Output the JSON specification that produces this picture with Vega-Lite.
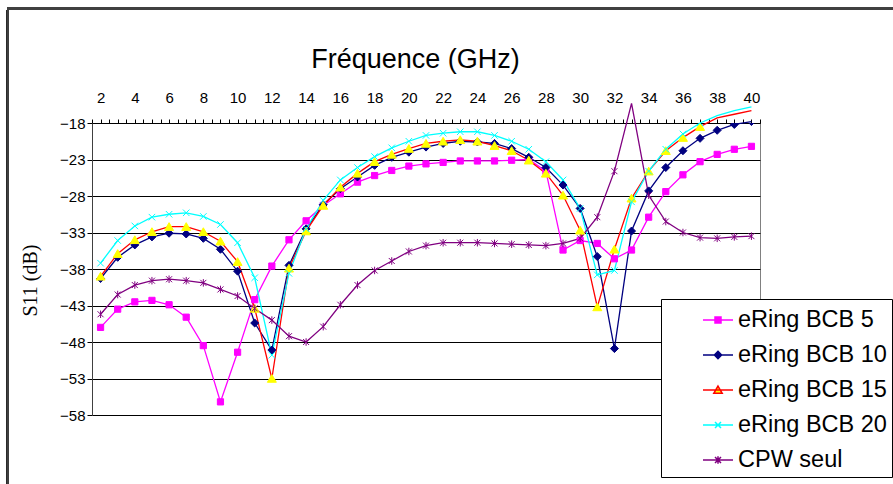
{
  "$schema": "https://vega.github.io/schema/vega-lite/v6.json",
  "width": 668,
  "height": 292,
  "autosize": {"type": "none"},
  "padding": {"left": 92, "top": 123, "right": 133, "bottom": 69},
  "background": "white",
  "config": {"view": {"stroke": "#808080", "strokeWidth": 1}, "font": "Liberation Sans"},
  "data": {"values": [
    {"f":2,"s":"eRing BCB 5","v":-46.0},{"f":3,"s":"eRing BCB 5","v":-43.5},{"f":4,"s":"eRing BCB 5","v":-42.5},{"f":5,"s":"eRing BCB 5","v":-42.3},{"f":6,"s":"eRing BCB 5","v":-42.9},{"f":7,"s":"eRing BCB 5","v":-44.6},{"f":8,"s":"eRing BCB 5","v":-48.5},{"f":9,"s":"eRing BCB 5","v":-56.2},{"f":10,"s":"eRing BCB 5","v":-49.4},{"f":11,"s":"eRing BCB 5","v":-42.2},{"f":12,"s":"eRing BCB 5","v":-37.6},{"f":13,"s":"eRing BCB 5","v":-34.0},{"f":14,"s":"eRing BCB 5","v":-31.4},{"f":15,"s":"eRing BCB 5","v":-29.3},{"f":16,"s":"eRing BCB 5","v":-27.7},{"f":17,"s":"eRing BCB 5","v":-26.1},{"f":18,"s":"eRing BCB 5","v":-25.2},{"f":19,"s":"eRing BCB 5","v":-24.5},{"f":20,"s":"eRing BCB 5","v":-23.9},{"f":21,"s":"eRing BCB 5","v":-23.6},{"f":22,"s":"eRing BCB 5","v":-23.4},{"f":23,"s":"eRing BCB 5","v":-23.2},{"f":24,"s":"eRing BCB 5","v":-23.2},{"f":25,"s":"eRing BCB 5","v":-23.2},{"f":26,"s":"eRing BCB 5","v":-23.1},{"f":27,"s":"eRing BCB 5","v":-23.0},{"f":28,"s":"eRing BCB 5","v":-24.6},{"f":29,"s":"eRing BCB 5","v":-35.4},{"f":30,"s":"eRing BCB 5","v":-34.1},{"f":31,"s":"eRing BCB 5","v":-34.5},{"f":32,"s":"eRing BCB 5","v":-36.6},{"f":33,"s":"eRing BCB 5","v":-35.4},{"f":34,"s":"eRing BCB 5","v":-30.9},{"f":35,"s":"eRing BCB 5","v":-27.4},{"f":36,"s":"eRing BCB 5","v":-25.1},{"f":37,"s":"eRing BCB 5","v":-23.3},{"f":38,"s":"eRing BCB 5","v":-22.3},{"f":39,"s":"eRing BCB 5","v":-21.6},{"f":40,"s":"eRing BCB 5","v":-21.2},
    {"f":2,"s":"eRing BCB 10","v":-39.3},{"f":3,"s":"eRing BCB 10","v":-36.4},{"f":4,"s":"eRing BCB 10","v":-34.7},{"f":5,"s":"eRing BCB 10","v":-33.6},{"f":6,"s":"eRing BCB 10","v":-33.1},{"f":7,"s":"eRing BCB 10","v":-33.2},{"f":8,"s":"eRing BCB 10","v":-33.8},{"f":9,"s":"eRing BCB 10","v":-35.3},{"f":10,"s":"eRing BCB 10","v":-38.3},{"f":11,"s":"eRing BCB 10","v":-45.4},{"f":12,"s":"eRing BCB 10","v":-49.1},{"f":13,"s":"eRing BCB 10","v":-37.5},{"f":14,"s":"eRing BCB 10","v":-32.5},{"f":15,"s":"eRing BCB 10","v":-29.2},{"f":16,"s":"eRing BCB 10","v":-27.0},{"f":17,"s":"eRing BCB 10","v":-25.4},{"f":18,"s":"eRing BCB 10","v":-23.8},{"f":19,"s":"eRing BCB 10","v":-22.7},{"f":20,"s":"eRing BCB 10","v":-22.0},{"f":21,"s":"eRing BCB 10","v":-21.3},{"f":22,"s":"eRing BCB 10","v":-20.8},{"f":23,"s":"eRing BCB 10","v":-20.5},{"f":24,"s":"eRing BCB 10","v":-20.6},{"f":25,"s":"eRing BCB 10","v":-20.8},{"f":26,"s":"eRing BCB 10","v":-21.5},{"f":27,"s":"eRing BCB 10","v":-22.7},{"f":28,"s":"eRing BCB 10","v":-24.1},{"f":29,"s":"eRing BCB 10","v":-26.5},{"f":30,"s":"eRing BCB 10","v":-29.7},{"f":31,"s":"eRing BCB 10","v":-36.3},{"f":32,"s":"eRing BCB 10","v":-48.9},{"f":33,"s":"eRing BCB 10","v":-32.8},{"f":34,"s":"eRing BCB 10","v":-27.3},{"f":35,"s":"eRing BCB 10","v":-24.1},{"f":36,"s":"eRing BCB 10","v":-21.8},{"f":37,"s":"eRing BCB 10","v":-20.1},{"f":38,"s":"eRing BCB 10","v":-19.0},{"f":39,"s":"eRing BCB 10","v":-18.2},{"f":40,"s":"eRing BCB 10","v":-17.8},
    {"f":2,"s":"eRing BCB 15","v":-39.0},{"f":3,"s":"eRing BCB 15","v":-35.9},{"f":4,"s":"eRing BCB 15","v":-34.0},{"f":5,"s":"eRing BCB 15","v":-32.9},{"f":6,"s":"eRing BCB 15","v":-32.2},{"f":7,"s":"eRing BCB 15","v":-32.2},{"f":8,"s":"eRing BCB 15","v":-32.9},{"f":9,"s":"eRing BCB 15","v":-34.2},{"f":10,"s":"eRing BCB 15","v":-37.0},{"f":11,"s":"eRing BCB 15","v":-43.4},{"f":12,"s":"eRing BCB 15","v":-53.0},{"f":13,"s":"eRing BCB 15","v":-37.9},{"f":14,"s":"eRing BCB 15","v":-32.8},{"f":15,"s":"eRing BCB 15","v":-29.3},{"f":16,"s":"eRing BCB 15","v":-26.8},{"f":17,"s":"eRing BCB 15","v":-24.9},{"f":18,"s":"eRing BCB 15","v":-23.3},{"f":19,"s":"eRing BCB 15","v":-22.3},{"f":20,"s":"eRing BCB 15","v":-21.5},{"f":21,"s":"eRing BCB 15","v":-20.8},{"f":22,"s":"eRing BCB 15","v":-20.5},{"f":23,"s":"eRing BCB 15","v":-20.3},{"f":24,"s":"eRing BCB 15","v":-20.5},{"f":25,"s":"eRing BCB 15","v":-21.1},{"f":26,"s":"eRing BCB 15","v":-21.8},{"f":27,"s":"eRing BCB 15","v":-23.1},{"f":28,"s":"eRing BCB 15","v":-24.9},{"f":29,"s":"eRing BCB 15","v":-27.9},{"f":30,"s":"eRing BCB 15","v":-32.7},{"f":31,"s":"eRing BCB 15","v":-43.2},{"f":32,"s":"eRing BCB 15","v":-35.3},{"f":33,"s":"eRing BCB 15","v":-28.3},{"f":34,"s":"eRing BCB 15","v":-24.6},{"f":35,"s":"eRing BCB 15","v":-21.8},{"f":36,"s":"eRing BCB 15","v":-20.0},{"f":37,"s":"eRing BCB 15","v":-18.5},{"f":38,"s":"eRing BCB 15","v":-17.3},{"f":39,"s":"eRing BCB 15","v":-16.8},{"f":40,"s":"eRing BCB 15","v":-16.3},
    {"f":2,"s":"eRing BCB 20","v":-37.2},{"f":3,"s":"eRing BCB 20","v":-34.1},{"f":4,"s":"eRing BCB 20","v":-32.1},{"f":5,"s":"eRing BCB 20","v":-30.9},{"f":6,"s":"eRing BCB 20","v":-30.5},{"f":7,"s":"eRing BCB 20","v":-30.3},{"f":8,"s":"eRing BCB 20","v":-30.8},{"f":9,"s":"eRing BCB 20","v":-31.9},{"f":10,"s":"eRing BCB 20","v":-34.4},{"f":11,"s":"eRing BCB 20","v":-39.2},{"f":12,"s":"eRing BCB 20","v":-49.8},{"f":13,"s":"eRing BCB 20","v":-38.6},{"f":14,"s":"eRing BCB 20","v":-32.5},{"f":15,"s":"eRing BCB 20","v":-28.6},{"f":16,"s":"eRing BCB 20","v":-25.8},{"f":17,"s":"eRing BCB 20","v":-24.1},{"f":18,"s":"eRing BCB 20","v":-22.6},{"f":19,"s":"eRing BCB 20","v":-21.4},{"f":20,"s":"eRing BCB 20","v":-20.5},{"f":21,"s":"eRing BCB 20","v":-19.7},{"f":22,"s":"eRing BCB 20","v":-19.4},{"f":23,"s":"eRing BCB 20","v":-19.2},{"f":24,"s":"eRing BCB 20","v":-19.2},{"f":25,"s":"eRing BCB 20","v":-19.7},{"f":26,"s":"eRing BCB 20","v":-20.5},{"f":27,"s":"eRing BCB 20","v":-21.6},{"f":28,"s":"eRing BCB 20","v":-23.3},{"f":29,"s":"eRing BCB 20","v":-25.8},{"f":30,"s":"eRing BCB 20","v":-29.7},{"f":31,"s":"eRing BCB 20","v":-38.8},{"f":32,"s":"eRing BCB 20","v":-38.2},{"f":33,"s":"eRing BCB 20","v":-28.8},{"f":34,"s":"eRing BCB 20","v":-24.6},{"f":35,"s":"eRing BCB 20","v":-21.6},{"f":36,"s":"eRing BCB 20","v":-19.5},{"f":37,"s":"eRing BCB 20","v":-18.0},{"f":38,"s":"eRing BCB 20","v":-17.0},{"f":39,"s":"eRing BCB 20","v":-16.3},{"f":40,"s":"eRing BCB 20","v":-15.8},
    {"f":2,"s":"CPW seul","v":-44.2},{"f":3,"s":"CPW seul","v":-41.5},{"f":4,"s":"CPW seul","v":-40.2},{"f":5,"s":"CPW seul","v":-39.6},{"f":6,"s":"CPW seul","v":-39.4},{"f":7,"s":"CPW seul","v":-39.6},{"f":8,"s":"CPW seul","v":-39.9},{"f":9,"s":"CPW seul","v":-40.8},{"f":10,"s":"CPW seul","v":-41.7},{"f":11,"s":"CPW seul","v":-43.4},{"f":12,"s":"CPW seul","v":-45.0},{"f":13,"s":"CPW seul","v":-47.2},{"f":14,"s":"CPW seul","v":-48.0},{"f":15,"s":"CPW seul","v":-45.9},{"f":16,"s":"CPW seul","v":-42.9},{"f":17,"s":"CPW seul","v":-40.2},{"f":18,"s":"CPW seul","v":-38.2},{"f":19,"s":"CPW seul","v":-36.9},{"f":20,"s":"CPW seul","v":-35.6},{"f":21,"s":"CPW seul","v":-34.8},{"f":22,"s":"CPW seul","v":-34.4},{"f":23,"s":"CPW seul","v":-34.4},{"f":24,"s":"CPW seul","v":-34.4},{"f":25,"s":"CPW seul","v":-34.5},{"f":26,"s":"CPW seul","v":-34.6},{"f":27,"s":"CPW seul","v":-34.7},{"f":28,"s":"CPW seul","v":-34.8},{"f":29,"s":"CPW seul","v":-34.5},{"f":30,"s":"CPW seul","v":-33.8},{"f":31,"s":"CPW seul","v":-30.9},{"f":32,"s":"CPW seul","v":-24.6},{"f":33,"s":"CPW seul","v":-15.3},{"f":34,"s":"CPW seul","v":-27.9},{"f":35,"s":"CPW seul","v":-31.5},{"f":36,"s":"CPW seul","v":-33.0},{"f":37,"s":"CPW seul","v":-33.7},{"f":38,"s":"CPW seul","v":-33.8},{"f":39,"s":"CPW seul","v":-33.6},{"f":40,"s":"CPW seul","v":-33.5}
  ]},
  "resolve": {
    "scale": {"fill": "independent", "stroke": "independent", "shape": "independent"},
    "legend": {"fill": "independent", "stroke": "independent", "shape": "independent"}
  },
  "layer": [
    {
      "mark": {"type": "rect", "filled": false, "stroke": "#404040", "strokeWidth": 1.5},
      "encoding": {
        "x": {"datum": -3.42, "type": "quantitative"},
        "x2": {"datum": 50},
        "y": {"datum": -2.3, "type": "quantitative"},
        "y2": {"datum": -90}
      }
    },
    {
      "mark": {"type": "line", "strokeWidth": 1.3},
      "encoding": {
        "x": {
          "field": "f", "type": "quantitative",
          "scale": {"domain": [1.5, 40.5], "nice": false, "zero": false},
          "axis": {
            "orient": "top", "tickCount": 78, "format": ".0f",
            "labelExpr": "datum.value % 2 === 0 ? datum.label : ''",
            "labelOverlap": false, "labelFlush": false,
            "labelFontSize": 15, "labelFont": "Liberation Sans", "labelColor": "black", "labelPadding": 14,
            "tickSize": 4, "tickColor": "black", "domainColor": "black", "grid": false,
            "title": "Fréquence (GHz)", "titleFont": "Liberation Sans", "titleFontSize": 27, "titleFontWeight": "normal",
            "titleColor": "black", "titleX": 323, "titleY": -56, "titleAlign": "center", "titleBaseline": "alphabetic"
          }
        },
        "y": {
          "field": "v", "type": "quantitative",
          "scale": {"domain": [-58, -18], "nice": false, "zero": false},
          "axis": {
            "values": [-18, -23, -28, -33, -38, -43, -48, -53, -58], "tickCount": 20,
            "labelFontSize": 15, "labelFont": "Liberation Sans", "labelColor": "black", "labelPadding": 2,
            "tickSize": 5, "tickColor": "black", "domainColor": "#404040",
            "grid": true, "gridColor": "black", "gridWidth": 1,
            "title": "S11 (dB)", "titleFont": "Liberation Serif", "titleFontSize": 20, "titleFontWeight": "normal",
            "titleColor": "black", "titleX": -62, "titleY": 157, "titleAngle": -90, "titleAlign": "center", "titleBaseline": "middle"
          }
        },
        "color": {
          "field": "s", "type": "nominal",
          "scale": {"domain": ["eRing BCB 5", "eRing BCB 10", "eRing BCB 15", "eRing BCB 20", "CPW seul"],
                    "range": ["#FF00FF", "#000080", "#FF0000", "#00FFFF", "#800080"]},
          "legend": null
        }
      }
    },
    {
      "mark": {"type": "point", "filled": true, "size": 100, "strokeWidth": 1, "opacity": 1, "clip": true},
      "encoding": {
        "x": {"field": "f", "type": "quantitative"},
        "y": {"field": "v", "type": "quantitative"},
        "fill": {
          "field": "s", "type": "nominal",
          "scale": {"domain": ["eRing BCB 5", "eRing BCB 10", "eRing BCB 15", "eRing BCB 20", "CPW seul"],
                    "range": ["#FF00FF", "#000080", "#FFFF00", "#00FFFF", "#800080"]},
          "legend": null
        },
        "stroke": {
          "field": "s", "type": "nominal",
          "scale": {"domain": ["eRing BCB 5", "eRing BCB 10", "eRing BCB 15", "eRing BCB 20", "CPW seul"],
                    "range": ["#FF00FF", "#000080", "#FFFF00", "#00FFFF", "#800080"]},
          "legend": null
        },
        "shape": {
          "field": "s", "type": "nominal",
          "scale": {"domain": ["eRing BCB 5", "eRing BCB 10", "eRing BCB 15", "eRing BCB 20", "CPW seul"],
                    "range": [
                      "M-0.62,-0.62L0.62,-0.62L0.62,0.62L-0.62,0.62Z",
                      "M0,-0.8L0.8,0L0,0.8L-0.8,0Z",
                      "M0,-0.8L0.9,0.75L-0.9,0.75Z",
                      "M-0.65,-0.65L0.65,0.65M-0.65,0.65L0.65,-0.65",
                      "M-0.6,-0.6L0.6,0.6M-0.6,0.6L0.6,-0.6M0,-0.75L0,0.75"
                    ]},
          "legend": null
        }
      }
    },
    {
      "transform": [{"filter": "false"}],
      "mark": {"type": "point", "filled": true, "opacity": 1},
      "encoding": {
        "x": {"field": "f", "type": "quantitative"},
        "y": {"field": "v", "type": "quantitative"},
        "fill": {
          "field": "s", "type": "nominal",
          "scale": {"domain": ["eRing BCB 5", "eRing BCB 10", "eRing BCB 15", "eRing BCB 20", "CPW seul"],
                    "range": ["#FF00FF", "#000080", "#FFFF00", "#00FFFF", "#800080"]}
        },
        "stroke": {
          "field": "s", "type": "nominal",
          "scale": {"domain": ["eRing BCB 5", "eRing BCB 10", "eRing BCB 15", "eRing BCB 20", "CPW seul"],
                    "range": ["#FF00FF", "#000080", "#FF0000", "#00FFFF", "#800080"]}
        },
        "shape": {
          "field": "s", "type": "nominal",
          "scale": {"domain": ["eRing BCB 5", "eRing BCB 10", "eRing BCB 15", "eRing BCB 20", "CPW seul"],
                    "range": [
                      "M-1,0L1,0M-0.2,-0.2L0.2,-0.2L0.2,0.2L-0.2,0.2Z",
                      "M-1,0L1,0M0,-0.24L0.24,0L0,0.24L-0.24,0Z",
                      "M-1,0L1,0M0,-0.26L0.28,0.22L-0.28,0.22Z",
                      "M-1,0L1,0M-0.2,-0.2L0.2,0.2M-0.2,0.2L0.2,-0.2",
                      "M-1,0L1,0M-0.2,-0.2L0.2,0.2M-0.2,0.2L0.2,-0.2M0,-0.25L0,0.25"
                    ]},
          "legend": {
            "orient": "none", "legendX": 569, "legendY": 176, "title": null,
            "padding": 5, "symbolOffset": 36, "labelOffset": 4, "rowPadding": 7,
            "labelFontSize": 23.5, "labelFont": "Liberation Sans", "labelColor": "black", "labelLimit": 400,
            "fillColor": "white", "strokeColor": "black",
            "symbolSize": 900, "symbolStrokeWidth": 1.5, "symbolOpacity": 1
          }
        }
      }
    }
  ]
}
